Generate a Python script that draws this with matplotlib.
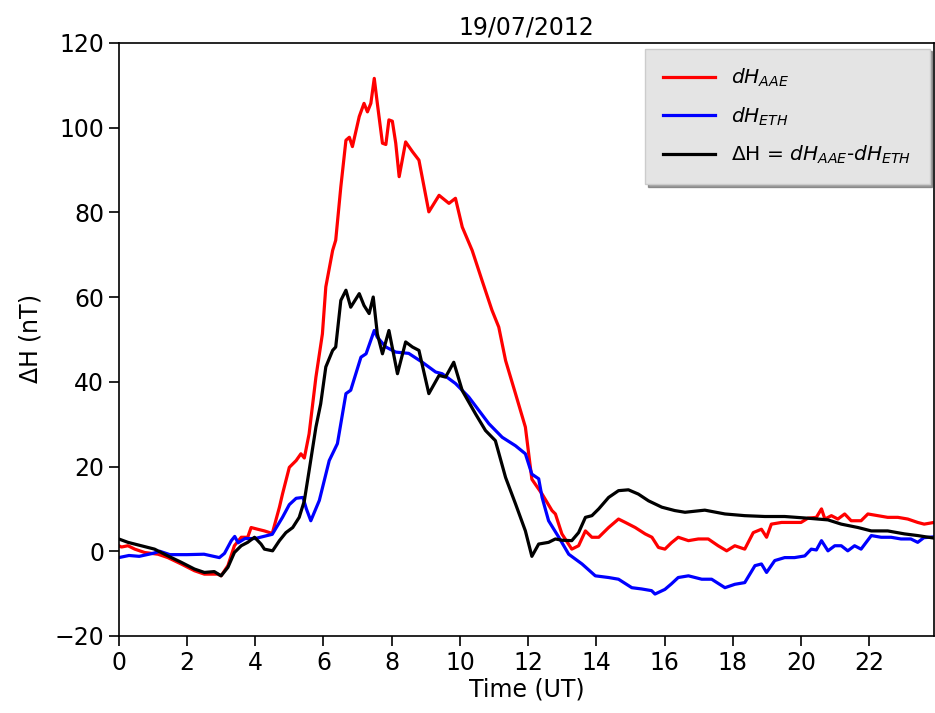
import numpy as np
import matplotlib.pyplot as plt

# dH at Addis Ababa (AAE), 19/07/2012
t_aae = [0.0, 0.08, 0.27, 0.47, 0.76, 1.15, 1.44, 1.83, 2.22, 2.51, 2.7, 2.9, 3.0, 3.2, 3.39,
         3.59, 3.78, 3.88, 4.07, 4.27, 4.5, 4.71, 4.8, 5.0, 5.2, 5.34, 5.44, 5.58, 5.78, 5.97,
         6.07, 6.27, 6.36, 6.51, 6.66, 6.76, 6.85, 7.05, 7.19, 7.29, 7.39, 7.49, 7.58, 7.73,
         7.83, 7.92, 8.02, 8.12, 8.22, 8.41, 8.61, 8.8, 9.09, 9.39, 9.68, 9.87, 10.07, 10.36,
         10.65, 10.94, 11.14, 11.34, 11.63, 11.92, 12.11, 12.41, 12.7, 12.8, 12.99, 13.28,
         13.48, 13.68, 13.87, 14.07, 14.36, 14.65, 14.85, 15.14, 15.43, 15.63, 15.82, 16.01,
         16.2, 16.4, 16.7, 16.99, 17.28, 17.57, 17.82, 18.06, 18.35, 18.6, 18.84, 18.99, 19.13,
         19.43, 19.72, 20.0, 20.2, 20.45, 20.6, 20.7, 20.89, 21.08, 21.28, 21.47, 21.76, 21.96,
         22.25, 22.54, 22.84, 23.13, 23.42, 23.61, 23.9]
dh_aae = [1.3, 1.0, 1.3, 0.5, -0.3, -0.7, -1.5, -3.0, -4.6, -5.4, -5.4, -5.4, -5.8, -3.4, 1.3,
          3.3, 3.3, 5.6, 5.2, 4.8, 4.2, 10.4, 13.5, 19.8, 21.4, 23.0, 22.0, 27.7, 41.1, 51.3,
          62.4, 71.0, 73.4, 86.0, 97.0, 97.7, 95.5, 102.6, 105.7, 103.7, 105.7, 111.6, 105.7,
          96.3, 96.0, 101.8, 101.5, 96.3, 88.4, 96.6, 94.3, 92.3, 80.1, 84.0, 82.1, 83.3,
          76.5, 71.0, 63.9, 56.9, 52.9, 45.0, 37.2, 29.3, 17.0, 13.5, 9.6, 8.8, 4.1, 0.5,
          1.3, 4.8, 3.3, 3.3, 5.6, 7.6, 6.8, 5.6, 4.1, 3.3, 0.9, 0.5, 2.0, 3.3, 2.5, 2.9,
          2.9, 1.3, 0.1, 1.3, 0.5, 4.4, 5.2, 3.3, 6.4, 6.8, 6.8, 6.8, 7.8, 8.0, 10.0, 7.6,
          8.4, 7.6, 8.8, 7.2, 7.2, 8.8, 8.4, 8.0, 8.0, 7.6, 6.8, 6.4, 6.8]

# dH at Ethiopia reference station (ETH)
t_eth = [0.0, 0.3, 0.6, 1.0, 1.2, 1.5, 2.0, 2.5, 2.95, 3.1, 3.3, 3.4, 3.5, 3.7, 4.0, 4.5,
         4.8, 5.0, 5.2, 5.4, 5.5, 5.63, 5.88, 6.17, 6.41, 6.66, 6.8, 7.1, 7.25, 7.49, 7.58,
         7.83, 8.12, 8.5, 8.9, 9.29, 9.48, 9.87, 10.26, 10.56, 10.85, 11.24, 11.63, 11.92,
         12.11, 12.31, 12.41, 12.6, 12.9, 13.19, 13.58, 13.97, 14.36, 14.65, 15.04, 15.33,
         15.62, 15.72, 16.01, 16.2, 16.4, 16.7, 17.09, 17.38, 17.77, 18.06, 18.35, 18.65,
         18.84, 18.99, 19.23, 19.52, 19.81, 20.11, 20.3, 20.45, 20.6, 20.79, 20.99, 21.18,
         21.37, 21.57, 21.76, 22.06, 22.35, 22.64, 22.93, 23.22, 23.42, 23.6, 23.9]
dh_eth = [-1.5, -1.0, -1.2, -0.5, 0.0, -0.8, -0.8, -0.7, -1.5, -0.5, 2.5, 3.5, 2.0, 3.0,
          3.0, 4.0, 8.0, 11.0, 12.5, 12.7, 10.0, 7.2, 12.0, 21.4, 25.4, 37.2, 38.0, 45.8,
          46.6, 52.1, 50.5, 48.2, 47.0, 46.7, 44.6, 42.3, 41.9, 39.6, 36.4, 33.2, 30.1, 26.9,
          24.9, 23.0, 18.2, 17.1, 12.7, 7.2, 3.3, -0.7, -3.0, -5.8, -6.2, -6.6, -8.6, -8.9,
          -9.3, -10.1, -9.0, -7.7, -6.2, -5.8, -6.6, -6.6, -8.6, -7.8, -7.4, -3.4, -3.0,
          -5.0, -2.2, -1.5, -1.5, -1.1, 0.5, 0.3, 2.5, 0.1, 1.3, 1.3, 0.1, 1.3, 0.5, 3.7,
          3.3, 3.3, 2.9, 2.9, 2.1, 3.2, 3.4]

# Difference dH_AAE - dH_ETH
t_diff = [0.0, 0.27, 0.66, 1.05, 1.44, 1.83, 2.22, 2.51, 2.8, 3.0, 3.2, 3.39, 3.59, 3.78,
          3.98, 4.17, 4.27, 4.51, 4.71, 4.9, 5.1, 5.29, 5.44, 5.58, 5.78, 5.92, 6.07, 6.27,
          6.36, 6.51, 6.66, 6.8, 7.05, 7.19, 7.34, 7.46, 7.58, 7.73, 7.92, 8.17, 8.41, 8.61,
          8.8, 9.09, 9.39, 9.58, 9.82, 10.07, 10.46, 10.75, 11.04, 11.34, 11.63, 11.92, 12.11,
          12.31, 12.6, 12.8, 12.99, 13.28, 13.48, 13.68, 13.87, 14.07, 14.36, 14.65, 14.94,
          15.23, 15.53, 15.92, 16.3, 16.6, 17.18, 17.77, 18.35, 18.94, 19.52, 20.2, 20.79,
          21.18, 21.67, 22.06, 22.54, 23.03, 23.42, 23.9]
dh_diff = [2.9, 2.1, 1.3, 0.5, -1.1, -2.6, -4.2, -5.0, -4.8, -5.8, -3.8, -0.3, 1.3, 2.1,
           3.3, 1.7, 0.5, 0.1, 2.5, 4.4, 5.6, 8.0, 11.9, 19.0, 29.3, 34.8, 43.5, 47.4, 48.2,
           59.2, 61.6, 57.6, 60.8, 58.0, 56.1, 60.0, 51.3, 46.6, 52.1, 41.9, 49.4, 48.2, 47.4,
           37.2, 41.5, 41.1, 44.6, 37.9, 32.4, 28.5, 26.1, 17.4, 11.2, 4.8, -1.2, 1.7, 2.1,
           2.9, 2.6, 2.5, 4.4, 8.0, 8.4, 10.0, 12.7, 14.3, 14.5, 13.5, 11.9, 10.4, 9.6, 9.2,
           9.7, 8.8, 8.4, 8.2, 8.2, 7.8, 7.4, 6.4, 5.6, 4.8, 4.8, 4.1, 3.7, 3.1]

fig = plt.figure(figsize=(9.35, 7.13), dpi=100)
ax = fig.add_axes([0.127, 0.108, 0.872, 0.832])

ax.plot(t_aae, dh_aae, color="red", linewidth=2.3, label=r"$dH_{AAE}$")
ax.plot(t_eth, dh_eth, color="blue", linewidth=2.3, label=r"$dH_{ETH}$")
ax.plot(t_diff, dh_diff, color="black", linewidth=2.3,
        label=r"$\Delta$H = $dH_{AAE}$-$dH_{ETH}$")

ax.set_xlim(0, 23.9)
ax.set_ylim(-20, 120)
ax.set_xticks(np.arange(0, 24, 2))
ax.set_yticks(np.arange(-20, 121, 20))
ax.tick_params(labelsize=17, length=7, width=1.2)

ax.set_xlabel("Time (UT)", fontsize=17, labelpad=2)
ax.set_ylabel(r"$\Delta$H (nT)", fontsize=17, labelpad=8)
ax.set_title("19/07/2012", fontsize=17, pad=6)

leg = ax.legend(loc="upper right", fontsize=14.5, shadow=True, fancybox=False,
                facecolor="#e4e4e4", framealpha=1, edgecolor="#cccccc",
                handlelength=2.6, borderpad=0.9, labelspacing=0.8,
                bbox_to_anchor=(1.007, 1.007))

for s in ax.spines.values():
    s.set_linewidth(1.2)

plt.savefig("out.png", dpi=100)
